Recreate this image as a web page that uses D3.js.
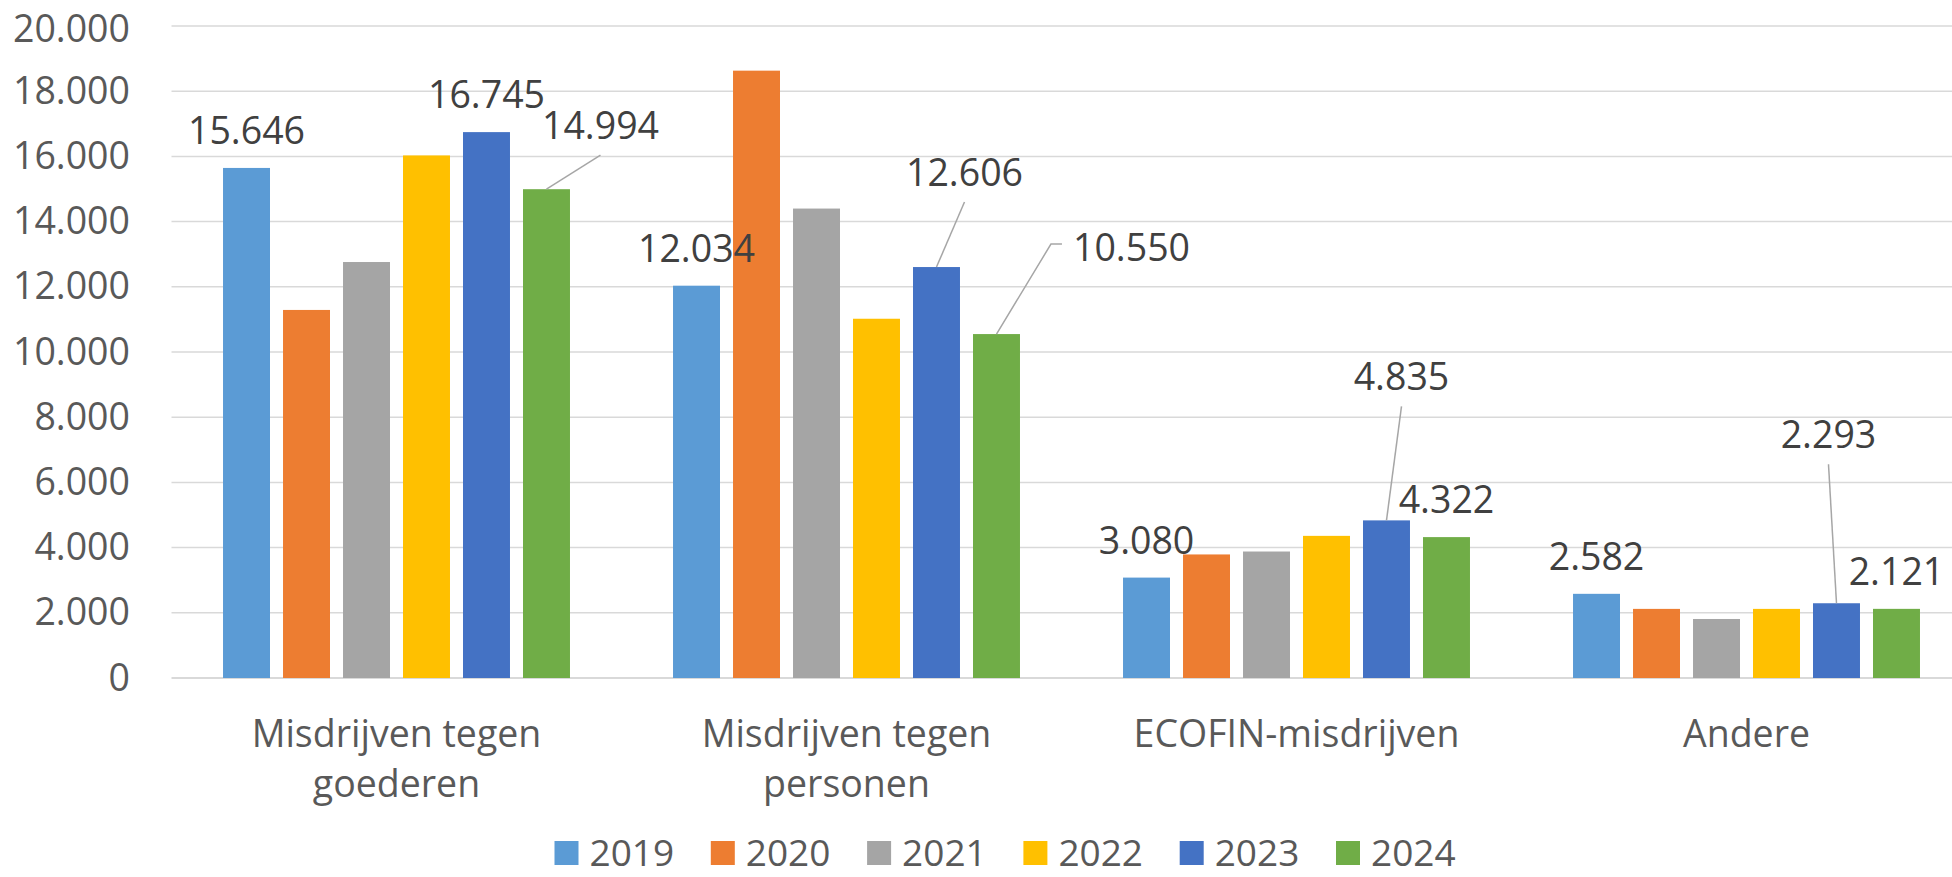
<!DOCTYPE html>
<html>
<head>
<meta charset="utf-8">
<script src="https://cdn.jsdelivr.net/npm/d3@7"></script>
<style>
  html, body { margin: 0; padding: 0; background: #fff; }
  svg { display: block; }
  text { font-family: "Open Sans", "Noto Sans", sans-serif; }
</style>
</head>
<body>
<div id="chart"></div>
<script>
var categories = ["Misdrijven tegen goederen", "Misdrijven tegen personen", "ECOFIN-misdrijven", "Andere"];
var years = ["2019", "2020", "2021", "2022", "2023", "2024"];

var values2019 = [15646, 12034, 3080, 2582];
var values2020 = [11290, 18630, 3790, 2120];
var values2021 = [12760, 14400, 3880, 1810];
var values2022 = [16030, 11020, 4360, 2120];
var values2023 = [16745, 12606, 4835, 2293];
var values2024 = [14994, 10550, 4322, 2121];

var yTicks = [0, 2000, 4000, 6000, 8000, 10000, 12000, 14000, 16000, 18000, 20000];

// which series carry data labels
var labelledYears = ["2019", "2023", "2024"];

var colors = ["#5b9bd5", "#ed7d31", "#a5a5a5", "#ffc000", "#4472c4", "#70ad47"];

var series = [values2019, values2020, values2021, values2022, values2023, values2024];

// labels moved away from the bar, with a leader line (offsets in px)
var moved = {
    "2024|0": {dx: 54, dy: -50, elbow: false},
    "2023|1": {dx: 28, dy: -81, elbow: false},
    "2024|1": {dx: 135, dy: -73, elbow: true},
    "2023|2": {dx: 15, dy: -130, elbow: false},
    "2023|3": {dx: -8, dy: -155, elbow: false}
};

var w = 1952,
    h = 877,
    fs = 37.5;

var fmt = d3.formatLocale({decimal: ",", thousands: ".", grouping: [3], currency: ["", ""]}).format(",d");

var svg = d3.select("#chart").append("svg")
    .attr("width", w)
    .attr("height", h);

var x0 = d3.scaleBand()
    .domain(d3.range(categories.length))
    .range([171.5, 1971.5])
    .paddingInner(0.229)
    .paddingOuter(0.1145);

var x1 = d3.scaleBand()
    .domain(years)
    .range([0, x0.bandwidth()])
    .paddingInner(0.217)
    .paddingOuter(0);

var y = d3.scaleLinear()
    .domain([0, 20000])
    .range([678, 26]);

// gridlines
svg.append("g")
    .selectAll("line")
    .data(yTicks)
    .enter().append("line")
    .attr("x1", 171.5)
    .attr("x2", w)
    .attr("y1", function(d) { return y(d); })
    .attr("y2", function(d) { return y(d); })
    .attr("stroke", "#d9d9d9")
    .attr("stroke-width", function(d) { return d === 0 ? 2 : 1.5; });

// y axis labels
var yAxis = d3.axisLeft(y)
    .tickValues(yTicks)
    .tickSize(0)
    .tickPadding(0)
    .tickFormat(fmt);

svg.append("g")
    .attr("transform", "translate(130,0)")
    .call(yAxis)
    .call(function(g) { g.select(".domain").remove(); })
    .selectAll("text")
    .attr("font-size", fs)
    .attr("font-family", "'Open Sans', sans-serif")
    .attr("fill", "#595959")
    .attr("y", function(d) { return d === 20000 ? 3 : 0; });

// bars
var groups = svg.append("g")
    .selectAll("g")
    .data(categories)
    .enter().append("g")
    .attr("transform", function(d, i) { return "translate(" + x0(i) + ",0)"; });

groups.selectAll("rect")
    .data(function(d, ci) {
        return years.map(function(yr, si) { return {year: yr, si: si, ci: ci, value: series[si][ci]}; });
    })
    .enter().append("rect")
    .attr("x", function(d) { return x1(d.year); })
    .attr("y", function(d) { return y(d.value); })
    .attr("width", x1.bandwidth())
    .attr("height", function(d) { return y(0) - y(d.value); })
    .attr("fill", function(d) { return colors[d.si]; });

// data labels
var labelData = [];
labelledYears.forEach(function(yr) {
    var si = years.indexOf(yr);
    categories.forEach(function(c, ci) {
        var cx = x0(ci) + x1(yr) + x1.bandwidth() / 2;
        var top = y(series[si][ci]);
        var m = moved[yr + "|" + ci];
        labelData.push({
            text: fmt(series[si][ci]),
            bx: cx,
            by: top,
            lx: cx + (m ? m.dx : 0),
            ly: top + (m ? m.dy : -24),
            moved: m
        });
    });
});

var labels = svg.append("g");

labels.selectAll("text")
    .data(labelData)
    .enter().append("text")
    .attr("x", function(d) { return d.lx; })
    .attr("y", function(d) { return d.ly; })
    .attr("text-anchor", "middle")
    .attr("font-size", fs)
    .attr("fill", "#404040")
    .text(function(d) { return d.text; })
    .each(function(d) { d.tw = this.getComputedTextLength(); });

labels.selectAll("path")
    .data(labelData.filter(function(d) { return d.moved; }))
    .enter().append("path")
    .attr("fill", "none")
    .attr("stroke", "#a6a6a6")
    .attr("stroke-width", 1.5)
    .attr("d", function(d) {
        if (d.moved.elbow) {
            var ex = d.lx - d.tw / 2 - 11,
                ey = d.ly - 17;
            return d3.line()([[d.bx, d.by], [ex - 11, ey], [ex, ey]]);
        }
        return d3.line()([[d.bx, d.by], [d.lx, d.ly + 16]]);
    });

// category labels, wrapped
var catG = svg.append("g");
categories.forEach(function(c, ci) {
    var cx = x0(ci) + x0.bandwidth() / 2;
    var t = catG.append("text")
        .attr("x", cx)
        .attr("y", 747)
        .attr("text-anchor", "middle")
        .attr("font-size", fs)
        .attr("fill", "#595959");
    var words = c.split(" "),
        line = [],
        lineNo = 0;
    var tspan = t.append("tspan").attr("x", cx).attr("y", 747);
    words.forEach(function(word) {
        line.push(word);
        tspan.text(line.join(" "));
        if (tspan.node().getComputedTextLength() > 340 && line.length > 1) {
            line.pop();
            tspan.text(line.join(" "));
            line = [word];
            lineNo++;
            tspan = t.append("tspan").attr("x", cx).attr("y", 747 + lineNo * 50).text(word);
        }
    });
});

// legend
var legend = svg.append("g")
    .selectAll("g")
    .data(years)
    .enter().append("g")
    .attr("transform", function(d, i) { return "translate(" + (554.5 + i * 156.3) + ",0)"; });

legend.append("rect")
    .attr("x", 0)
    .attr("y", 841)
    .attr("width", 24)
    .attr("height", 24)
    .attr("fill", function(d, i) { return colors[i]; });

legend.append("text")
    .attr("x", 35)
    .attr("y", 866)
    .attr("font-size", 37)
    .attr("fill", "#595959")
    .text(function(d) { return d; });
</script>
</body>
</html>
